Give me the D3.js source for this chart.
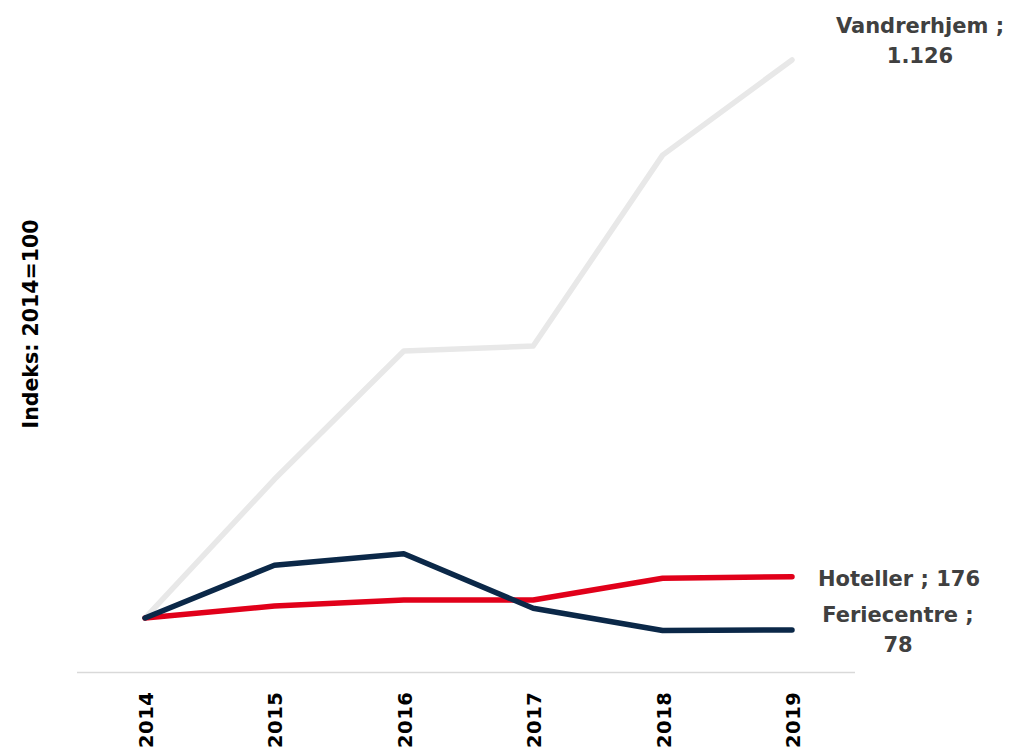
<!DOCTYPE html>
<html>
<head>
<meta charset="utf-8">
<script src="https://cdn.jsdelivr.net/npm/d3@7"></script>
<style>
  html, body { margin: 0; padding: 0; background: #fff; }
  text { font-family: "DejaVu Sans", "Noto Sans", sans-serif; font-weight: 700; }
</style>
</head>
<body>
<svg id="chart" width="1015" height="751"></svg>
<script>
const years = ["2014", "2015", "2016", "2017", "2018", "2019"];
const vandrerhjem = [100, 355, 591, 600, 951, 1126];
const hoteller = [100, 122, 133, 133, 173, 176];
const feriecentre = [100, 197, 218, 118, 77, 78];
const seriesNames = ["Vandrerhjem", "Hoteller", "Feriecentre"];
const seriesLabels = [["Vandrerhjem ;", "1.126"], ["Hoteller ; 176"], ["Feriecentre ;", "78"]];
const yLabel = "Indeks: 2014=100";

const series = [
  { name: seriesNames[0], values: vandrerhjem, color: "#e8e8e8", label: seriesLabels[0] },
  { name: seriesNames[1], values: hoteller, color: "#e1001a", label: seriesLabels[1] },
  { name: seriesNames[2], values: feriecentre, color: "#0b2848", label: seriesLabels[2] }
];

const svg = d3.select("#chart");
const x = d3.scalePoint().domain(years).range([145, 792]);
const y = d3.scaleLinear().domain([0, 1200]).range([672.4, 19.7]);

// baseline
svg.append("line")
  .attr("x1", 77).attr("x2", 855)
  .attr("y1", y(0)).attr("y2", y(0))
  .attr("stroke", "#d9d9d9").attr("stroke-width", 1.5);

// x tick labels
svg.append("g").selectAll("text")
  .data(years).enter().append("text")
  .attr("transform", d => `translate(${x(d) + 8},748) rotate(-90)`)
  .attr("font-size", 19.5)
  .attr("letter-spacing", 0.5)
  .attr("fill", "#000")
  .text(d => d);

// y axis label
svg.append("text")
  .attr("transform", "translate(38,324) rotate(-90)")
  .attr("text-anchor", "middle")
  .attr("font-size", 20.5)
  .attr("fill", "#000")
  .text(yLabel);

const line = d3.line().x((d, i) => x(years[i])).y(d => y(d));

svg.append("g").selectAll("path")
  .data(series).enter().append("path")
  .attr("d", s => line(s.values))
  .attr("fill", "none")
  .attr("stroke", s => s.color)
  .attr("stroke-width", 5.5)
  .attr("stroke-linejoin", "round")
  .attr("stroke-linecap", "round");

// data labels
const labelPos = [
  { cx: 920, y0: 33 },
  { cx: 899, y0: 586 },
  { cx: 898, y0: 622 }
];
series.forEach((s, i) => {
  const t = svg.append("text")
    .attr("text-anchor", "middle")
    .attr("font-size", 21)
    .attr("fill", "#404040");
  s.label.forEach((ln, j) => {
    t.append("tspan")
      .attr("x", labelPos[i].cx)
      .attr("y", labelPos[i].y0 + j * 30)
      .text(ln);
  });
});
</script>
</body>
</html>
